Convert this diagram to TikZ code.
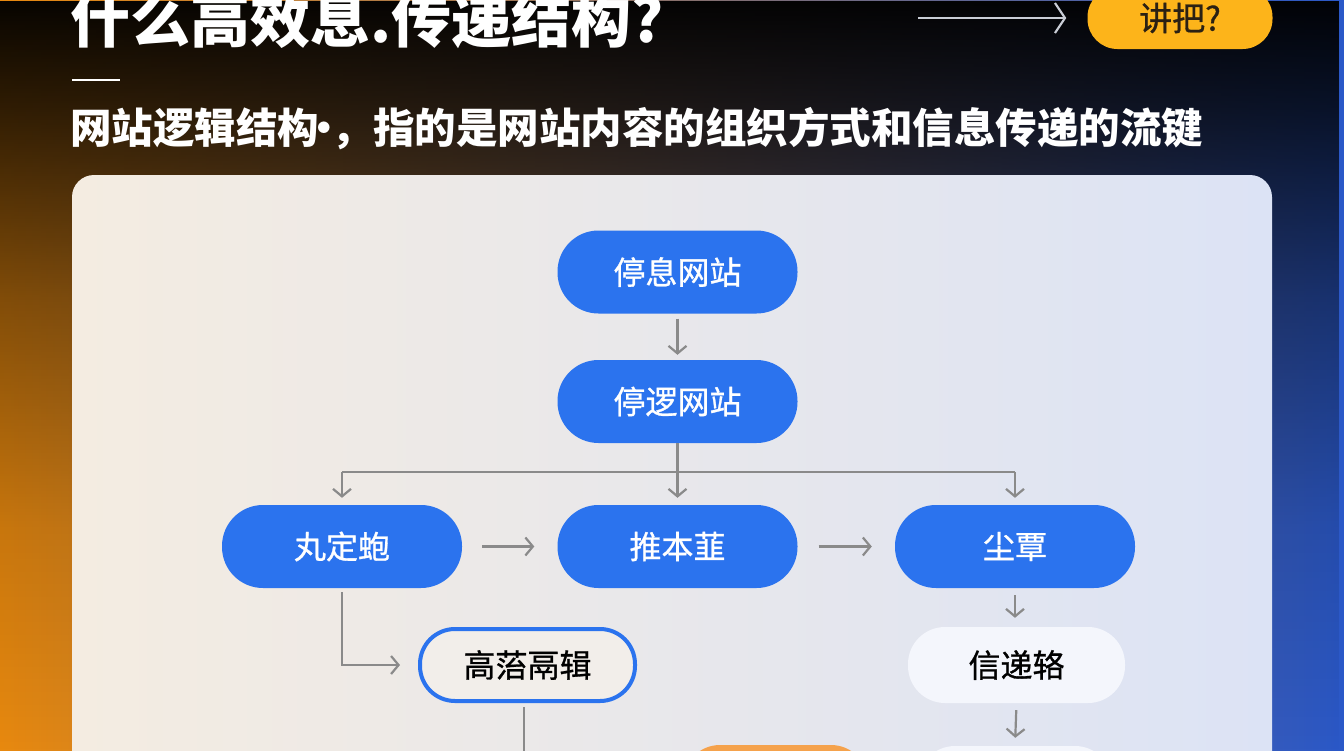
\documentclass[tikz,border=0pt]{standalone}
\usepackage{fontspec}
\setmainfont{Noto Sans CJK SC}
\newfontfamily\cjkmed{Noto Sans CJK SC}[FakeBold=0.9]
\usetikzlibrary{arrows.meta,fadings}

\definecolor{bgOrange}{HTML}{E8890F}
\definecolor{bgBlue}{HTML}{2A58C8}
\definecolor{panelL}{HTML}{F4ECE1}
\definecolor{panelR}{HTML}{DCE3F5}
\definecolor{nodeBlue}{HTML}{2B73EE}
\definecolor{nodeWhite}{HTML}{F4F6FC}
\definecolor{nodeInner}{HTML}{F2EEEA}
\definecolor{connGray}{HTML}{8A8A8A}
\definecolor{pillYellow}{HTML}{FDB41A}
\definecolor{pillText}{HTML}{2B2113}
\definecolor{topArrow}{HTML}{C9CDD6}
\definecolor{partOrange}{HTML}{F5A24C}

\pgfdeclareverticalshading{darkshade}{100bp}{color(0bp)=(transparent!100); color(25bp)=(transparent!100); color(40bp)=(transparent!86); color(55bp)=(transparent!56); color(68bp)=(transparent!20); color(75bp)=(transparent!3); color(100bp)=(transparent!3)}
\pgfdeclarefading{darktop}{\pgfuseshading{darkshade}}

\tikzset{
  pillbase/.style={rectangle, inner sep=0pt, font=\cjkmed\fontsize{32}{38}\selectfont},
  bluepill/.style={pillbase, fill=nodeBlue, text=white, minimum width=240pt, minimum height=83pt, rounded corners=41pt},
  whitepill/.style={pillbase, fill=nodeWhite, text=black, minimum width=217pt, minimum height=76pt, rounded corners=37pt},
  outlinepill/.style={pillbase, draw=nodeBlue, line width=4pt, fill=nodeInner, text=black, minimum width=215pt, minimum height=72pt, rounded corners=35pt},
  orangepill/.style={pillbase, fill=partOrange, minimum width=185pt, minimum height=76pt, rounded corners=37pt},
  yellowpill/.style={rectangle, inner sep=0pt, fill=pillYellow, text=pillText, minimum width=185pt, minimum height=62pt, rounded corners=30pt, font=\cjkmed\fontsize{33}{38}\selectfont},
  plainline/.style={draw=connGray, line width=2.2pt},
  conn/.style={plainline, -{Straight Barb[length=7.5pt,width=18pt]}},
  toparrowstyle/.style={draw=topArrow, line width=2.2pt, -{Straight Barb[length=10pt,width=30pt]}},
}

\begin{document}
\begin{tikzpicture}[x=1pt,y=-1pt]
\useasboundingbox (0,0) rectangle (1344,750);
\clip (0,0) rectangle (1344,750);

% background
\shade[left color=bgOrange, right color=bgBlue] (0,0) rectangle (1344,750);
\fill[black, path fading=darktop] (0,0) rectangle (1344,750);

% header
\node[anchor=base west, inner sep=0pt, text=white, font=\fontsize{60}{64}\selectfont\bfseries] (title) at (70,42) {什么高效息.传递结构?};
\draw[white, line width=2pt] (72,80) -- (120,80);
\node[anchor=base west, inner sep=0pt, text=white, font=\fontsize{41.5}{46}\selectfont\bfseries] (subtitle) at (70,143) {网站逻辑结构\makebox[0.3em][l]{\kern-0.38em ·}，指的是网站内容的组织方式和信息传递的流键};

\node[yellowpill] (pill) at (1180,18) {讲把?};
\coordinate (tastart) at (918,18);
\draw[toparrowstyle, shorten >=21pt] (tastart) -- (pill.west);

% panel
\shade[rounded corners=22pt, left color=panelL, right color=panelR] (72,175) rectangle (1272,800);

% nodes
\node[bluepill] (n1) at (677.5,272) {停息网站};
\node[bluepill] (n2) at (677.5,401.5) {停逻网站};
\node[bluepill] (n3a) at (342,546.5) {丸定蚫};
\node[bluepill] (n3b) at (677.5,546.5) {推本韮};
\node[bluepill] (n3c) at (1015,546.5) {尘覃};
\node[outlinepill] (n4) at (527.5,665) {高菭鬲辑};
\node[whitepill] (n5) at (1016.5,665) {信递辂};
\node[orangepill] (n6) at (775.5,783) {};
\node[whitepill, minimum width=194pt] (n7) at (1015,784) {};

% connectors
\draw[conn, shorten <=5pt, shorten >=5pt] (n1) -- (n2);
\coordinate (bj) at (677.5,472);
\draw[conn, shorten >=7pt] (n2.south) -- (n3b.north);
\draw[plainline] (n3a.north |- bj) -- (n3c.north |- bj);
\draw[conn, shorten >=7pt] (n3a.north |- bj) -- (n3a.north);
\draw[conn, shorten >=7pt] (n3c.north |- bj) -- (n3c.north);
\draw[conn, shorten <=20pt, shorten >=23pt] (n3a.east) -- (n3b.west);
\draw[conn, shorten <=21pt, shorten >=23pt] (n3b.east) -- (n3c.west);
\draw[conn, shorten <=4pt, shorten >=18pt] (n3a.south) |- (n4.west);
\coordinate (n4down) at (524,800);
\draw[plainline, shorten <=4pt] (n4.south -| n4down) -- (n4down);
\draw[conn, shorten <=7pt, shorten >=9pt] (n3c.south) -- (n5.north -| n3c.south);
\draw[conn, shorten <=7pt, shorten >=8pt] (n5.south) -- (n7.north);
\end{tikzpicture}
\end{document}
